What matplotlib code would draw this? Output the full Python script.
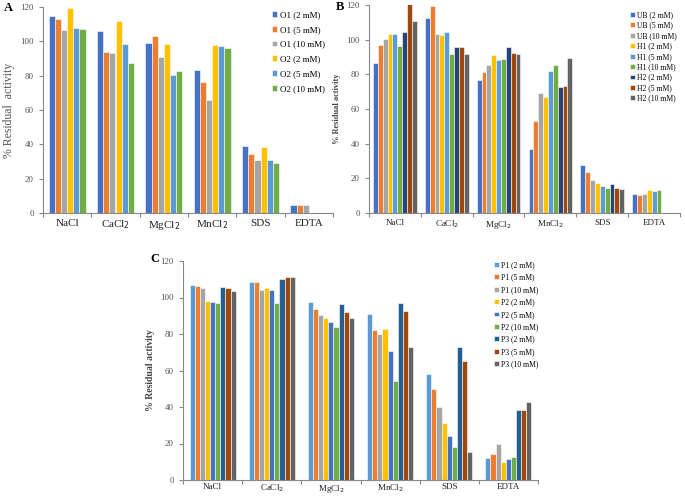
import matplotlib.pyplot as plt
import numpy as np

plt.rcParams['font.family'] = ['Liberation Serif', 'DejaVu Serif']

# Categorías
categorias = ['NaCl', 'CaCl$_2$', 'MgCl$_2$', 'MnCl$_2$', 'SDS', 'EDTA']

# Panel A
series_a = ['O1 (2 mM)', 'O1 (5 mM)', 'O1 (10 mM)', 'O2 (2 mM)', 'O2 (5 mM)', 'O2 (10 mM)']
valores_a = [
    [114.5, 106.2, 99.0, 83.5, 39.2, 4.5],
    [113.0, 93.8, 103.0, 76.3, 34.2, 4.5],
    [106.5, 93.0, 91.0, 66.0, 30.9, 4.5],
    [119.5, 111.7, 98.4, 98.0, 38.6, np.nan],
    [107.5, 98.4, 80.4, 97.5, 30.9, np.nan],
    [107.3, 87.4, 82.9, 96.3, 29.3, np.nan],
]
colores_a = ['#4472C4', '#ED7D31', '#A5A5A5', '#FFC000', '#5B9BD5', '#70AD47']

# Panel B
series_b = ['UB (2 mM)', 'UB (5 mM)', 'UB (10 mM)', 'H1 (2 mM)', 'H1 (5 mM)', 'H1 (10 mM)',
            'H2 (2 mM)', 'H2 (5 mM)', 'H2 (10 mM)']
valores_b = [
    [86.5, 112.3, 76.5, 37.0, 27.5, 10.7],
    [97.2, 119.3, 81.5, 53.0, 23.5, 10.3],
    [100.3, 103.5, 85.5, 69.5, 19.0, 10.7],
    [103.2, 102.5, 91.0, 67.0, 17.5, 13.5],
    [103.0, 104.2, 88.5, 82.0, 15.5, 12.7],
    [96.4, 91.5, 88.8, 85.5, 14.5, 13.5],
    [104.3, 96.0, 95.8, 72.5, 16.5, np.nan],
    [120.5, 96.0, 92.2, 73.2, 14.3, np.nan],
    [111.0, 91.5, 92.0, 89.5, 13.8, np.nan],
]
colores_b = ['#4472C4', '#ED7D31', '#A5A5A5', '#FFC000', '#5B9BD5', '#70AD47',
             '#264478', '#9E480E', '#636363']

# Panel C
series_c = ['P1 (2 mM)', 'P1 (5 mM)', 'P1 (10 mM)', 'P2 (2 mM)', 'P2 (5 mM)', 'P2 (10 mM)',
            'P3 (2 mM)', 'P3 (5 mM)', 'P3 (10 mM)']
valores_c = [
    [107.0, 108.3, 97.3, 91.0, 58.0, 12.0],
    [106.5, 108.3, 93.7, 82.0, 50.0, 14.2],
    [105.0, 104.0, 90.3, 80.0, 40.0, 20.0],
    [98.2, 105.0, 88.5, 83.0, 31.5, 9.7],
    [97.8, 104.0, 86.5, 70.5, 24.0, 11.5],
    [97.2, 97.0, 84.0, 54.5, 18.2, 12.5],
    [105.7, 110.0, 96.5, 97.0, 73.0, 38.5],
    [105.0, 111.5, 92.0, 92.5, 65.0, 38.5],
    [103.5, 111.0, 88.5, 72.7, 15.5, 43.0],
]
colores_c = ['#5B9BD5', '#ED7D31', '#A5A5A5', '#FFC000', '#4472C4', '#70AD47',
             '#255E91', '#9E480E', '#636363']

fig = plt.figure(figsize=(6.85, 4.96), dpi=100)


def panel(rect, series, valores, colores, ancho_grupo, ylabel, ylabel_kw, xfs, yfs, xpad,
          leg_pos, leg_spacing, leg_fs, letra, letra_pos):
    ax = fig.add_axes(rect)
    x = np.arange(len(categorias))
    n = len(series)
    w = ancho_grupo / n
    for i in range(n):
        ax.bar(x - ancho_grupo / 2 + w * (i + 0.5), valores[i], width=w,
               color=colores[i], edgecolor='white', linewidth=0.4, label=series[i])
    ax.set_xlim(-0.5, len(categorias) - 0.5)
    ax.set_ylim(0, 120)
    ax.set_yticks(np.arange(0, 121, 20))
    # ticks mayores en los bordes de cada categoría, etiquetas en el centro
    ax.set_xticks(np.arange(len(categorias) + 1) - 0.5)
    ax.set_xticklabels([])
    ax.set_xticks(x, minor=True)
    ax.set_xticklabels(categorias, minor=True, fontsize=xfs, color='#222222')
    ax.tick_params(axis='x', which='major', length=3, color='#888888')
    ax.tick_params(axis='x', which='minor', length=0, pad=xpad)
    ax.tick_params(axis='y', length=3, color='#888888', labelsize=yfs, labelcolor='#555555')
    for s in ['top', 'right']:
        ax.spines[s].set_visible(False)
    for s in ['left', 'bottom']:
        ax.spines[s].set_color('#888888')
        ax.spines[s].set_linewidth(0.8)
    ax.set_ylabel(ylabel, **ylabel_kw)
    ax.legend(loc='upper left', bbox_to_anchor=leg_pos, bbox_transform=fig.transFigure,
              frameon=False, fontsize=leg_fs, handlelength=0.6, handleheight=0.6,
              handletextpad=0.3, labelspacing=leg_spacing, borderpad=0, borderaxespad=0)
    fig.text(letra_pos[0], letra_pos[1], letra, fontsize=9, fontweight='bold', va='top')
    return ax


panel([43 / 685, 1 - 213 / 496, 290 / 685, 206 / 496], series_a, valores_a, colores_a, 0.76,
      '% Residual  activity', dict(fontsize=8.5, color='#555555', labelpad=4), 8, 6.5, 4,
      (272 / 685, 1 - 11 / 496), 0.75, 6.5, 'A', (4 / 685, 1 - 2 / 496))

panel([369 / 685, 1 - 213 / 496, 311 / 685, 208 / 496], series_b, valores_b, colores_b, 0.84,
      '% Residual activity', dict(fontsize=6, fontweight='bold', color='#444444', labelpad=4),
      6.5, 6.5, 4, (630 / 685, 1 - 11 / 496), 0.32, 5.5, 'B', (336 / 685, 1 - 1 / 496))

panel([183 / 685, 1 - 480 / 496, 355 / 685, 219 / 496], series_c, valores_c, colores_c, 0.78,
      '% Residual activity', dict(fontsize=7, fontweight='bold', color='#444444', labelpad=4),
      6.5, 6.5, 2, (494 / 685, 1 - 261 / 496), 0.58, 5.5, 'C', (150 / 685, 1 - 253 / 496))

fig.savefig('out.png', dpi=100)
